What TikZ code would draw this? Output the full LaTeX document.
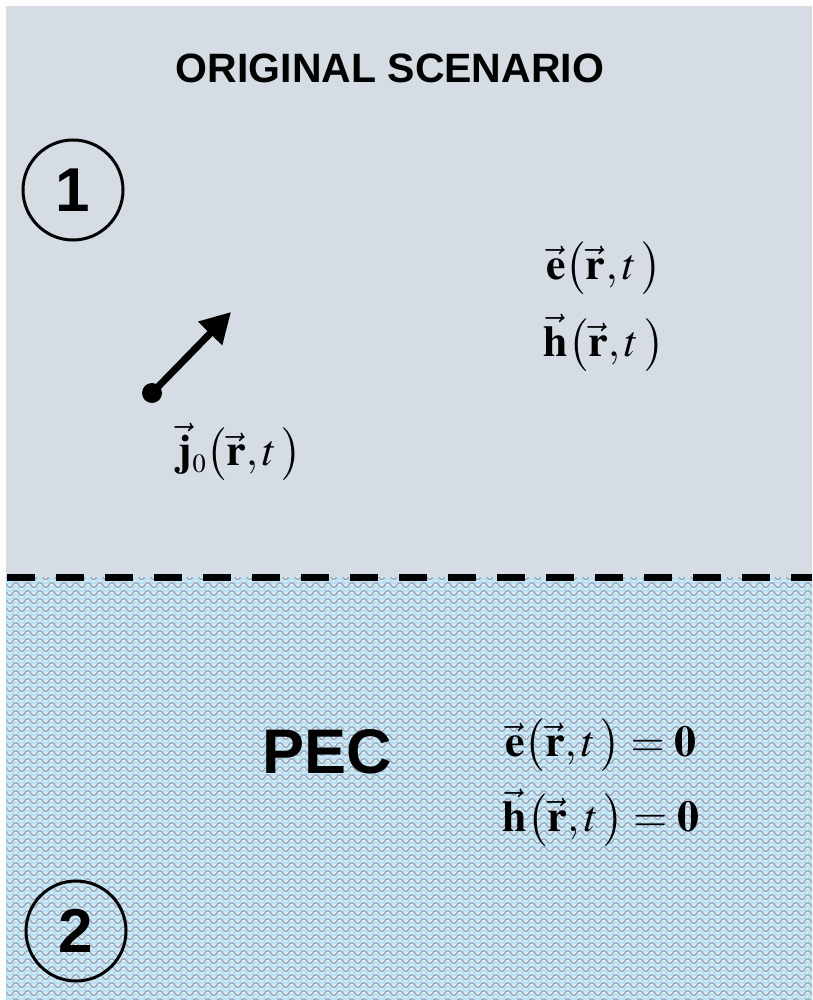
\documentclass[tikz,border=0pt]{standalone}
\usepackage{amsmath}
\usepackage{mathptmx}
\usepackage{fontspec}
\setsansfont{Liberation Sans}
\usepackage{tikz}
\usetikzlibrary{arrows.meta,decorations.pathmorphing}
\definecolor{upper}{HTML}{D5DCE4}
\definecolor{waveA}{HTML}{9CAEC4}
\definecolor{waveB}{HTML}{B8E2F3}
\newcommand{\bvec}[1]{\vec{\mathbf{#1}}}
\newcommand{\fsz}[1]{\fontsize{#1}{#1}\selectfont}
\tikzset{
  region/.style={circle,draw,line width=3pt,minimum size=100pt,inner sep=0pt,font=\sffamily\bfseries\fsz{62}},
  field/.style={inner sep=0pt,font=\fsz{44}},
  wave/.style={decorate,decoration={snake,segment length=12pt,amplitude=2.5pt}}
}

\begin{document}
\begin{tikzpicture}[x=1pt,y=-1pt,>=Latex]
        \useasboundingbox (0,0) rectangle (812,1000);
        \fill[upper] (6,6) rectangle (812,577);
        \begin{scope}
          \clip (6,577) rectangle (812,1000);
          \fill[white] (6,577) rectangle (812,1000);
          \foreach \y in {577,585,...,1005} {
            \draw[wave,waveB,line width=2.8pt] (0,\y+4) -- (820,\y+4);
            \draw[wave,waveA,line width=1.8pt] (0,\y) -- (820,\y);
          }
        \end{scope}
        \draw[line width=7pt,dash pattern=on 28pt off 21pt] (7,577) -- (812,577);
        \node[font=\sffamily\bfseries\fsz{41}] (title) at (390,68) {ORIGINAL SCENARIO};
        \node[region] (r1) at (73,190) {1};
        \node[region] (r2) at (76,931) {2};
        % source current
        \coordinate (src) at (152,393);
        \coordinate (tip) at (231,312);
        \draw[->,line width=7pt,arrows={-Triangle[length=30pt,width=32pt]}] (src) -- (tip);
        \fill (src) circle (10pt);
        \node[field] (j0) at (240,452) {$\bvec{j}_{\scriptscriptstyle 0}\bigl(\bvec{r},t\,\bigr)$};
        \node[field] (e1) at (604,268) {$\bvec{e}\bigl(\bvec{r},t\,\bigr)$};
        \node[field] (h1) at (604,343) {$\bvec{h}\bigl(\bvec{r},t\,\bigr)$};
        \node[font=\sffamily\bfseries\fsz{63}] (pec) at (327,752) {PEC};
        \node[field] (e2) at (601,745) {$\bvec{e}\bigl(\bvec{r},t\,\bigr)=\mathbf{0}$};
        \node[field] (h2) at (601,818) {$\bvec{h}\bigl(\bvec{r},t\,\bigr)=\mathbf{0}$};
\end{tikzpicture}
\end{document}
